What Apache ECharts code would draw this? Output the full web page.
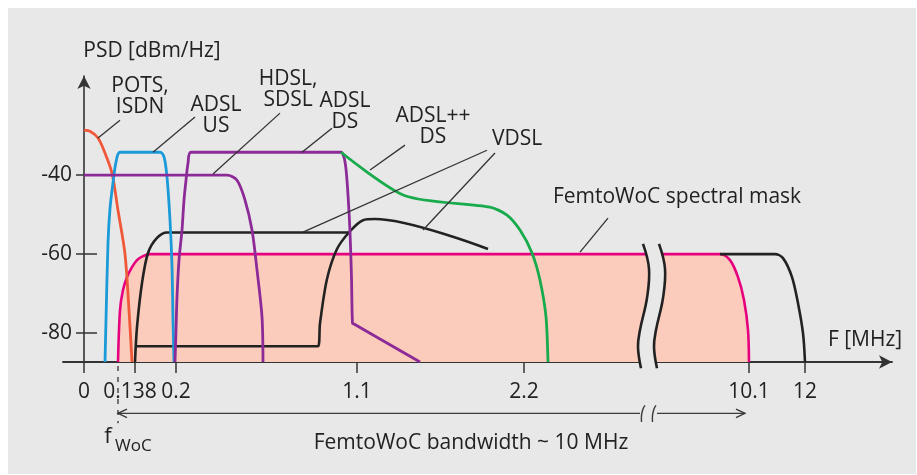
<!DOCTYPE html>
<html>
<head>
<meta charset="utf-8">
<script src="https://cdn.jsdelivr.net/npm/echarts@6/dist/echarts.min.js"></script>
<style>
  html, body { margin: 0; padding: 0; background: #ffffff; }
  #panel { position: absolute; left: 8px; top: 8px; width: 908px; height: 466px; background: #e8e8e8; }
  #chart { position: absolute; left: 0; top: 0; width: 917px; height: 475px; }
</style>
</head>
<body>
<div id="panel"></div>
<div id="chart"></div>
<script>
// x = position along the broken (not-to-scale) frequency axis, y = PSD in dBm/Hz

// frequency ticks (MHz) and where they sit on the schematic axis
const freqTickPos    = [0, 51, 92, 273, 440, 665, 721];
const freqTickLabels = ['0', '0.138', '0.2', '1.1', '2.2', '10.1', '12'];
const psdTicks       = [-80, -60, -40];

// spectral masks, [position, dBm/Hz]
const potsIsdn = [[0, -28.6], [6, -28.9], [14, -30.6], [21, -34.4], [28, -39.5], [34, -48.9], [41, -60], [45, -74.2], [48, -87.3]];
const adslUs   = [[21, -87.3], [22, -76.7], [24, -57.2], [26, -48.4], [29, -41.9], [32, -36.7], [36, -34.2], [76, -34.2], [80, -35.4], [83, -40.5], [86, -51.4], [88, -63], [89, -76.7], [90, -87.3]];
const hdslSdsl = [[0, -40], [143, -40], [153, -41.3], [161, -46.3], [168, -53.9], [173, -64], [178, -75.9], [179, -87.3]];
const adslDs   = [[91, -87.3], [92, -79.2], [93, -70.9], [95, -61.5], [98, -53.9], [100, -46.3], [102, -41.3], [104, -37], [107, -34.2], [257, -34.2], [260, -35.5], [262, -38.5], [264, -45], [266, -54.4], [267.5, -66], [268.5, -77.5], [270, -77.7], [336, -87.3]];
const adslPlusDs = [[257, -34.2], [321, -45.2], [406, -48.1], [423, -50.1], [436, -53.9], [448, -59.7], [456, -66.6], [462, -75.9], [464, -87.3]];
const vdslLow  = [[51, -87.3], [53, -78.5], [58, -67.3], [64, -59.7], [73, -55.9], [83, -54.5], [266, -54.5]];
const vdslHigh = [[51, -83.3], [234, -83.3], [236, -77.5], [243, -66.3], [253, -58.7], [266, -54.2], [279, -51.4], [291, -51.1], [404, -58.7]];
const vdslTop  = [[636, -60], [691, -60], [699, -61], [708, -65.8], [714, -72.4], [719, -80], [721, -87.3]];
const femtoMask = [[34, -87.3], [36, -74.2], [39, -69.1], [43, -65.8], [48, -63.3], [53, -61.5], [59, -60.5], [66, -60], [636, -60], [646, -61.5], [654, -65.8], [660, -71.6], [664, -79.2], [665, -87.3]];

// ---- drawing ----
const FONT = '"Open Sans", "Noto Sans", sans-serif';
const INK = '#222222';

// axis break (two wavy strokes with a gap) across the mask
const breakLeft  = [[559, -57.4], [565, -63.7], [563, -71.1], [556, -79.2], [554, -83.5], [557, -88.9]];
const breakRight = breakLeft.map(p => [p[0] + 16, p[1]]);

// leader lines from labels to curves
const leaders = [
  [14, -30.6, 36, -26.1],
  [69, -34.2, 111, -25.3],
  [129, -39.7, 196, -24.3],
  [218, -34.2, 248, -28.1],
  [286, -38.7, 321, -32.4],
  [403, -33.7, 219, -54.4],
  [411, -34.4, 339, -53.9],
  [524, -50.9, 496, -59.5]
];

// bandwidth arrow under the axis (split by the break)
const bwY = -100.3;
const bwSegments = [
  [[34, bwY], [556, bwY]],
  [[573, bwY], [661, bwY]],
  [[43, -99.2], [34, bwY], [43, -101.4]],
  [[652, -99.2], [661, bwY], [652, -101.4]],
  [[561, -98.3], [559, -99.2], [557.5, -100.8], [557.5, -102.5]],
  [[572, -98.3], [570, -99.2], [568.5, -100.8], [568.5, -102.5]]
];

const notes = [
  { x: 56,  y: -20.2, text: 'POTS,\nISDN' },
  { x: 132, y: -25.0, text: 'ADSL\nUS' },
  { x: 204, y: -18.4, text: 'HDSL,\nSDSL' },
  { x: 261, y: -24.0, text: 'ADSL\nDS' },
  { x: 349, y: -27.8, text: 'ADSL++\nDS' },
  { x: 433, y: -30.8, text: 'VDSL' },
  { x: 593, y: -45.5, text: 'FemtoWoC spectral mask' },
  { x: 781, y: -81.7, text: 'F [MHz]' },
  { x: 68,  y: -8.6,  text: 'PSD [dBm/Hz]' },
  { x: 387, y: -107.9, text: 'FemtoWoC bandwidth ~ 10 MHz' }
];

function curve(name, data, color, width, smooth) {
  return {
    name: name, type: 'line', data: data, symbol: 'none', smooth: smooth,
    lineStyle: { color: color, width: width, join: 'round' },
    silent: true, z: 3
  };
}

const chart = echarts.init(document.getElementById('chart'), null, { renderer: 'canvas' });

const yBase = {
  type: 'value', min: -87.3, max: -14.9, position: 'left', offset: -21,
  splitLine: { show: false }
};
const xBase = {
  type: 'value', min: -21, max: 808, position: 'bottom',
  splitLine: { show: false }
};

chart.setOption({
  animation: false,
  backgroundColor: 'transparent',
  textStyle: { fontFamily: FONT, color: INK },
  grid: { left: 63, right: 25, top: 76, bottom: 113 },
  xAxis: [
    Object.assign({}, xBase, {
      axisLine: { onZero: false, lineStyle: { color: '#333', width: 1.8 }, symbol: ['none', 'arrow'], symbolSize: [10, 13] },
      axisTick: { customValues: freqTickPos, length: 11, lineStyle: { color: '#333', width: 1.5 } },
      axisLabel: {
        customValues: freqTickPos, margin: 20, fontSize: 21, color: INK, fontFamily: FONT,
        formatter: v => {
          const t = freqTickLabels[freqTickPos.indexOf(v)];
          return v === freqTickPos[1] ? '{l|' + t + '}' : t;
        },
        rich: { l: { fontSize: 21, fontFamily: FONT, color: INK, padding: [0, 10, 0, 0] } }
      }
    }),
    Object.assign({}, xBase, {
      axisLine: { show: false, onZero: false },
      axisTick: { customValues: [freqTickPos[3], freqTickPos[4]], inside: true, length: 10, lineStyle: { color: '#333', width: 1.5 } },
      axisLabel: { show: false }
    })
  ],
  yAxis: [
    Object.assign({}, yBase, {
      axisLine: { show: true, onZero: false, lineStyle: { color: '#333', width: 1.6 }, symbol: ['none', 'arrow'], symbolSize: [10, 13] },
      axisTick: { customValues: psdTicks, length: 8, lineStyle: { color: '#333', width: 1.5 } },
      axisLabel: { customValues: psdTicks, margin: 12, fontSize: 21, color: INK, fontFamily: FONT, formatter: v => String(v) }
    }),
    Object.assign({}, yBase, {
      axisLine: { show: false, onZero: false },
      axisTick: { customValues: psdTicks, inside: true, length: 13, lineStyle: { color: '#333', width: 1.5 } },
      axisLabel: { show: false }
    })
  ],
  series: [
    {
      name: 'FemtoWoC spectral mask', type: 'line', data: femtoMask, symbol: 'none', smooth: 0.3,
      lineStyle: { color: '#e6007e', width: 2.6 },
      areaStyle: { color: '#fbcbbb', opacity: 1, origin: 'start' },
      silent: true, z: 2
    },
    curve('VDSL', vdslLow, '#222', 2.6, 0.3),
    curve('VDSL', vdslHigh, '#222', 2.6, 0.3),
    curve('VDSL', vdslTop, '#222', 2.6, 0.3),
    curve('POTS, ISDN', potsIsdn, '#f0583a', 2.8, 0.3),
    curve('ADSL US', adslUs, '#1a9ad8', 2.8, 0.3),
    curve('HDSL, SDSL', hdslSdsl, '#8c2a98', 2.8, 0.3),
    curve('ADSL DS', adslDs, '#8c2a98', 2.8, 0.3),
    curve('ADSL++ DS', adslPlusDs, '#17ab4c', 2.8, 0.25),
    {
      // gap of the axis break
      type: 'custom', silent: true, z: 5, data: [[0, 0]],
      renderItem: function (params, api) {
        const l = breakLeft.map(p => api.coord(p));
        const r = breakRight.map(p => api.coord(p));
        return {
          type: 'group', children: [
            { type: 'polygon', shape: { points: l.concat(r.slice().reverse()) }, style: { fill: '#e8e8e8' } },
            { type: 'polyline', shape: { points: l, smooth: 0.4 }, style: { stroke: '#222', lineWidth: 2.6, fill: null } },
            { type: 'polyline', shape: { points: r, smooth: 0.4 }, style: { stroke: '#222', lineWidth: 2.6, fill: null } }
          ]
        };
      }
    },
    {
      // f_WoC marker and bandwidth arrow
      type: 'custom', silent: true, z: 5, data: [[0, 0]],
      renderItem: function (params, api) {
        const kids = bwSegments.map(seg => ({
          type: 'polyline', shape: { points: seg.map(p => api.coord(p)), smooth: seg.length > 3 ? 0.4 : 0 },
          style: { stroke: '#3a3a3a', lineWidth: 1.4, fill: null }
        }));
        const a = api.coord([femtoMask[0][0], -88.3]);
        const b = api.coord([femtoMask[0][0], -102.8]);
        kids.push({ type: 'line', shape: { x1: a[0], y1: a[1], x2: b[0], y2: b[1] }, style: { stroke: '#333', lineWidth: 1.3, lineDash: [5, 6] } });
        const f = api.coord([24, -106.3]);
        kids.push({ type: 'text', x: f[0], y: f[1], style: { text: 'f', fontSize: 22, fontFamily: FONT, fill: INK, align: 'center', verticalAlign: 'middle' } });
        const s = api.coord([31, -108.6]);
        kids.push({ type: 'text', x: s[0], y: s[1], style: { text: 'WoC', fontSize: 17, fontFamily: FONT, fill: INK, align: 'left', verticalAlign: 'middle' } });
        return { type: 'group', children: kids };
      }
    },
    {
      type: 'custom', silent: true, z: 5, data: leaders,
      renderItem: function (params, api) {
        const a = api.coord([api.value(0), api.value(1)]);
        const b = api.coord([api.value(2), api.value(3)]);
        return { type: 'line', shape: { x1: a[0], y1: a[1], x2: b[0], y2: b[1] }, style: { stroke: '#333', lineWidth: 1.3 } };
      }
    },
    {
      type: 'custom', silent: true, z: 5, data: notes.map(n => [n.x, n.y]),
      renderItem: function (params, api) {
        const n = notes[params.dataIndex];
        const p = api.coord([n.x, n.y]);
        return {
          type: 'text', x: p[0], y: p[1],
          style: { text: n.text, fontSize: 21, fontFamily: FONT, fill: INK, align: 'center', verticalAlign: 'middle', lineHeight: 21 }
        };
      }
    }
  ]
});
</script>
</body>
</html>
